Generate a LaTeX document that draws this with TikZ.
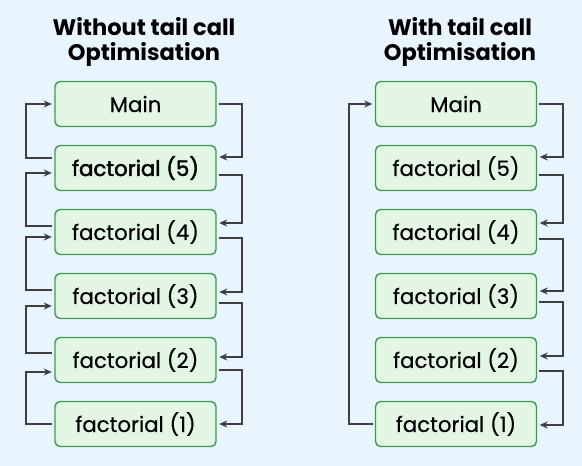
\documentclass[tikz,border=0pt]{standalone}
\usepackage{fontspec}
\setmainfont{Poppins}
\newfontfamily\boxfont[FakeBold=0.4]{Poppins}
\newfontfamily\semibfont[FakeBold=2.2]{Poppins}
\usetikzlibrary{arrows.meta}
\definecolor{bgc}{HTML}{E9F5FE}
\definecolor{boxfill}{HTML}{E2F6E3}
\definecolor{boxline}{HTML}{3D9B4C}
\definecolor{linec}{HTML}{3F3F3F}
\begin{document}
\begin{tikzpicture}[x=1pt,y=-1pt,
  fbox/.style={draw=boxline, fill=boxfill, line width=1.4pt, rounded corners=5pt,
    minimum width=161pt, minimum height=45pt, inner sep=0pt,
    font=\boxfont\fontsize{21.3}{24}\selectfont},
  ttl/.style={align=center, font=\fontsize{22.5}{25}\selectfont\bfseries},
  conn/.style={draw=linec, line width=1.6pt, shorten <=2pt, shorten >=2.5pt,
    -{Stealth[length=8pt,width=7pt,inset=2.5pt]}}]
\path[fill=bgc] (0,0) rectangle (582,466);
% titles
\node[ttl] (t1) at (144,42) {Without tail call\\Optimisation};
\node[ttl] (t2) at (460,42) {With tail call\\Optimisation};
% left column
\node[fbox] (lm) at (135.5,104) {Main};
\node[fbox] (l5) at (135.5,168) {\semibfont factorial (5)};
\node[fbox] (l4) at (135.5,232) {factorial (4)};
\node[fbox] (l3) at (135.5,296) {factorial (3)};
\node[fbox] (l2) at (135.5,360) {factorial (2)};
\node[fbox] (l1) at (135.5,424) {factorial (1)};
% right column
\node[fbox] (rm) at (456,104) {Main};
\node[fbox] (r5) at (456,168) {factorial (5)};
\node[fbox] (r4) at (456,232) {factorial (4)};
\node[fbox] (r3) at (456,296) {factorial (3)};
\node[fbox] (r2) at (456,360) {factorial (2)};
\node[fbox] (r1) at (456,424) {factorial (1)};
% left column: calls (right side)
\draw[conn] (lm.east) -- (242,104) |- (l5.east |- 0,157);
\draw[conn] (l5.east |- 0,175) -- (242,175) |- (l4.east |- 0,223);
\draw[conn] (l4.east |- 0,238) -- (242,238) |- (l3.east |- 0,292);
\draw[conn] (l3.east |- 0,303) -- (242,303) |- (l2.east |- 0,357);
\draw[conn] (l2.east |- 0,370) -- (242,370) |- (l1.east |- 0,424);
% left column: returns (left side)
\draw[conn] (l5.west |- 0,158) -- (26,158) |- (lm.west);
\draw[conn] (l4.west |- 0,226) -- (26,226) |- (l5.west |- 0,173);
\draw[conn] (l3.west |- 0,290) -- (26,290) |- (l4.west |- 0,237);
\draw[conn] (l2.west |- 0,353) -- (26,353) |- (l3.west |- 0,306);
\draw[conn] (l1.west) -- (26,424) |- (l2.west |- 0,372);
% right column: calls
\draw[conn] (rm.east) -- (563,104) |- (r5.east |- 0,157);
\draw[conn] (r5.east |- 0,175) -- (563,175) |- (r4.east |- 0,223);
\draw[conn] (r4.east |- 0,239) -- (563,239) |- (r3.east |- 0,291);
\draw[conn] (r3.east |- 0,302) -- (563,302) |- (r2.east |- 0,356);
\draw[conn] (r2.east |- 0,371) -- (563,371) |- (r1.east |- 0,425);
% right column: single return
\draw[conn] (r1.west) -- (349,424) |- (rm.west);
\end{tikzpicture}
\end{document}
